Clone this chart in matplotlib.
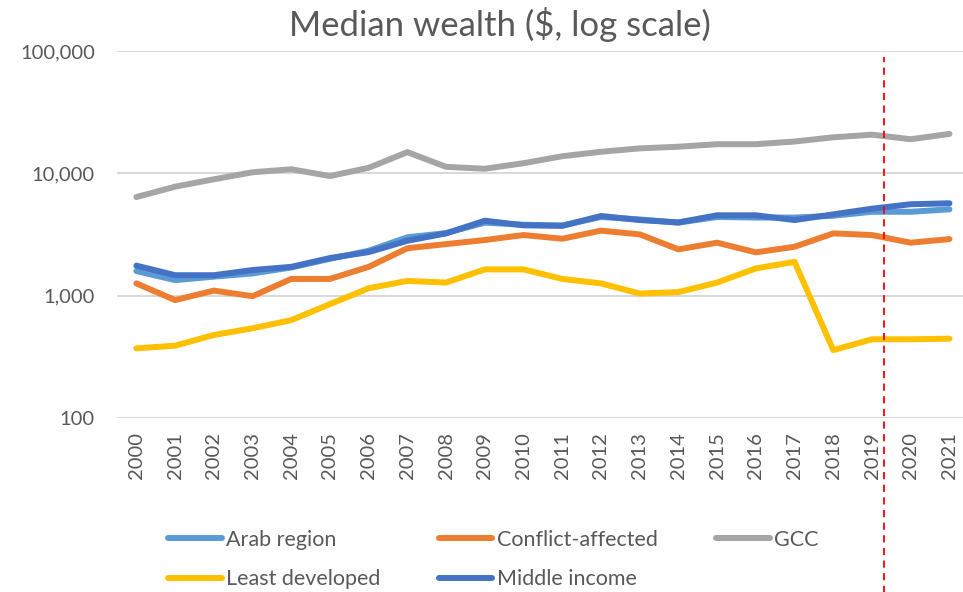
import numpy as np
import matplotlib
matplotlib.use("Agg")
import matplotlib.pyplot as plt
from matplotlib.ticker import FixedLocator, FuncFormatter, NullLocator

plt.rcParams['font.family'] = ['Lato', 'DejaVu Sans']

# ---------------------------------------------------------------------------
# Data ($ median wealth)
# ---------------------------------------------------------------------------
years = list(range(2000, 2022))

arab_region = [1590, 1340, 1430, 1520, 1700, 2000, 2330, 3000, 3250, 3950, 3800,
               3750, 4400, 4200, 3950, 4400, 4350, 4350, 4500, 4850, 4850, 5080]
conflict_affected = [1260, 920, 1100, 990, 1370, 1370, 1720, 2440, 2640, 2850, 3130,
                     2920, 3400, 3170, 2390, 2710, 2260, 2510, 3230, 3130, 2710, 2900]
gcc = [6400, 7780, 8940, 10200, 10800, 9500, 11100, 14900, 11300, 10900, 12100,
       13800, 15000, 16000, 16500, 17300, 17300, 18200, 19700, 20700, 19000, 21000]
least_developed = [371, 390, 477, 541, 631, 853, 1150, 1320, 1280, 1640, 1640,
                   1370, 1260, 1040, 1070, 1280, 1670, 1890, 359, 440, 440, 445]
middle_income = [1760, 1470, 1470, 1620, 1720, 2030, 2270, 2810, 3230, 4100, 3760,
                 3720, 4480, 4150, 3970, 4540, 4540, 4150, 4620, 5140, 5590, 5690]

series_names = ["Arab region", "Conflict-affected", "GCC", "Least developed", "Middle income"]
series_colors = ["#5B9BD5", "#ED7D31", "#A5A5A5", "#FFC000", "#4472C4"]

y_ticks = [100, 1000, 10000, 100000]
cutoff_pos = 19.3   # dashed marker just after 2019 (category index)

# ---------------------------------------------------------------------------
# Plot
# ---------------------------------------------------------------------------
W, H = 963, 592
fig = plt.figure(figsize=(W / 100, H / 100), dpi=100)
ax = fig.add_axes([117 / W, 1 - 418 / H, (W - 117) / W, (418 - 51) / H])

x = np.arange(len(years))
handles = []
for vals, name, col in zip([arab_region, conflict_affected, gcc, least_developed, middle_income],
                           series_names, series_colors):
    h, = ax.plot(x, vals, color=col, lw=4.3, label=name,
                 solid_joinstyle="round", solid_capstyle="round", zorder=3)
    handles.append(h)

ax.set_yscale("log")
ax.set_ylim(100, 100000)
ax.set_xlim(-0.5, 21.35)
ax.yaxis.set_major_locator(FixedLocator(y_ticks))
ax.yaxis.set_minor_locator(NullLocator())
ax.yaxis.set_major_formatter(FuncFormatter(lambda v, p: f"{int(v):,}"))
ax.set_xticks(x)
ax.set_xticklabels([str(y) for y in years], rotation=90, va="top", ha="center")

ax.grid(axis="y", color="#D9D9D9", lw=1.5, zorder=0)
for s in ax.spines.values():
    s.set_visible(False)
ax.tick_params(axis="both", length=0, colors="#595959")
ax.tick_params(axis="y", pad=16, labelsize=14.5)
ax.tick_params(axis="x", pad=10, labelsize=14.5)

# red dashed marker, runs past the plot area down into the legend
ax.axvline(cutoff_pos, ymin=-0.48, ymax=0.984, color="red", lw=1.3,
           ls=(0, (4, 3)), clip_on=False, zorder=4)

fig.text(500 / W, 1 - 25 / H, "Median wealth ($, log scale)", ha="center", va="center",
         fontsize=25, color="#595959")

order = [0, 3, 1, 4, 2]
fig.legend([handles[i] for i in order], [series_names[i] for i in order],
           ncol=3, loc="upper left", bbox_to_anchor=(168 / W, 1 - 530 / H),
           frameon=False, fontsize=15.5, handlelength=2.5, handletextpad=0.2,
           columnspacing=2.7, labelspacing=0.9, borderpad=0, borderaxespad=0,
           labelcolor="#595959")

fig.savefig("out.png", dpi=100)
